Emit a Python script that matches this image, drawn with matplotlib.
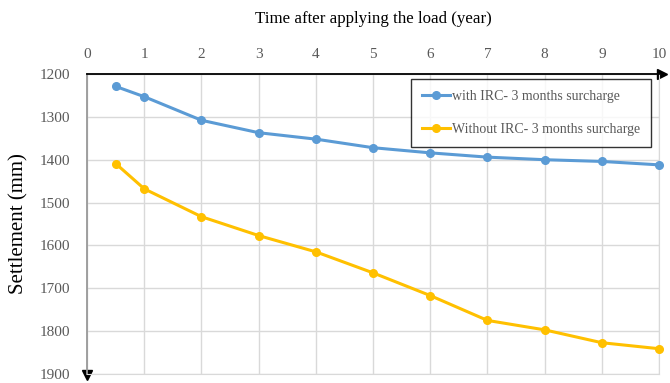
import matplotlib.pyplot as plt

years = [0.5, 1, 2, 3, 4, 5, 6, 7, 8, 9, 10]
with_irc = [1229, 1253, 1308, 1337, 1352, 1372, 1384, 1394, 1400, 1404, 1412]
without_irc = [1409, 1468, 1533, 1577, 1615, 1664, 1717, 1775, 1797, 1827, 1841]
xticks = list(range(0, 11))
yticks = list(range(1200, 2000, 100))

plt.rcParams['font.family'] = ['Liberation Serif', 'DejaVu Serif']

fig = plt.figure(figsize=(6.7, 3.83), dpi=100)
ax = fig.add_axes([0.13, 0.0235, 0.8536, 0.7833])

ax.plot(years, with_irc, color='#5B9BD5', lw=2.2, marker='o', ms=5.5,
        label='with IRC- 3 months surcharge', clip_on=False, zorder=3)
ax.plot(years, without_irc, color='#FFC000', lw=2.2, marker='o', ms=5.5,
        label='Without IRC- 3 months surcharge', clip_on=False, zorder=3)

ax.set_xlim(0, 10)
ax.set_ylim(1900, 1200)
ax.set_xticks(xticks)
ax.set_yticks(yticks)
ax.xaxis.tick_top()
ax.xaxis.set_label_position('top')
ax.tick_params(length=0, labelsize=11, labelcolor='#595959')
ax.tick_params(axis='x', pad=9)
ax.tick_params(axis='y', pad=12)
ax.grid(True, color='#D9D9D9', lw=1)
ax.set_axisbelow(True)

for s in ['right', 'bottom']:
    ax.spines[s].set_color('#D9D9D9')
ax.spines['top'].set_color('black')
ax.spines['top'].set_linewidth(1.3)
ax.spines['left'].set_color('#999999')
ax.spines['left'].set_linewidth(1.3)

# arrow heads on the axes
ax.plot(1.005, 1, marker='>', color='black', ms=7, transform=ax.transAxes, clip_on=False)
ax.plot(0, -0.005, marker='v', color='black', ms=7, transform=ax.transAxes, clip_on=False)

ax.set_xlabel('Time after applying the load (year)', fontsize=12.2, labelpad=18)
ax.set_ylabel('Settlement (mm)', fontsize=15, labelpad=8)

leg = ax.legend(loc='upper right', bbox_to_anchor=(0.986, 0.983), borderaxespad=0,
                fontsize=10, frameon=True, fancybox=False, edgecolor='black',
                labelspacing=1.4, handlelength=2.0, handletextpad=0.15,
                borderpad=0.8, labelcolor='#595959')
leg.get_frame().set_linewidth(1)

fig.savefig('out.png', dpi=100)
